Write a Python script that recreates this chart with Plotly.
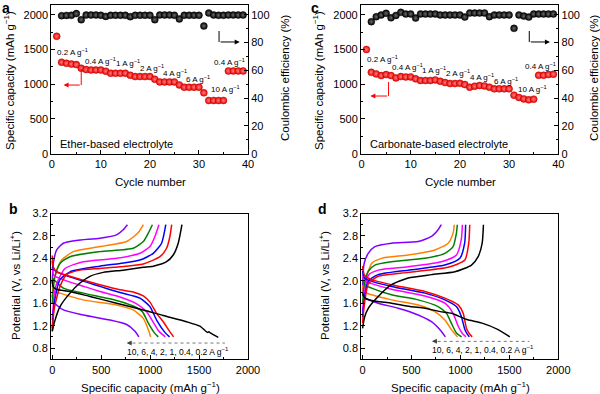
import plotly.graph_objects as go

# ---------------- data: rate capability (panels a, c) ----------------
cycles = list(range(1, 40))
cap_ether = [1690, 1316, 1301, 1290, 1282, 1230, 1210, 1205, 1205, 1205,
             1187, 1158, 1158, 1158, 1158, 1129, 1110, 1110, 1110, 1110,
             1072, 1033, 1033, 1033, 1033, 990, 957, 957, 957, 957,
             876, 766, 766, 766, 766, 1191, 1191, 1191, 1191]
ce_ether = [None, 99.3, 99.5, 99.6, 100.8, 96.4, 99.8, 99.8, 99.8, 99.6,
            98.8, 99.6, 99.6, 99.6, 99.6, 98.6, 99.6, 99.6, 99.6, 99.6,
            96.4, 99.8, 99.8, 99.8, 99.6, 97.0, 99.6, 99.6, 99.6, 99.6,
            91.9, 101.2, 99.8, 99.6, 99.6, 99.8, 99.8, 99.8, 99.8]
cap_carb = [1500, 1172, 1148, 1124, 1139, 1124, 1091, 1110, 1105, 1105,
            1077, 1053, 1053, 1053, 1062, 1043, 1024, 1010, 1010, 1014,
            995, 957, 971, 981, 976, 957, 933, 933, 933, 933,
            842, 809, 789, 775, 785, 1129, 1129, 1139, 1144]
ce_carb = [None, 95.0, 98.6, 99.8, 101.0, 97.8, 99.5, 101.7, 100.5, 100.5,
           97.6, 100.5, 100.5, 100.5, 100.5, 99.8, 99.8, 99.8, 99.8, 99.8,
           98.3, 101.2, 101.2, 101.2, 101.2, 98.6, 99.8, 99.8, 99.8, 99.8,
           90.2, 99.8, 99.0, 98.3, 100.5, 100.5, 100.5, 100.5, 100.5]
rate_labels = ["0.2 A g<sup>−1</sup>", "0.4 A g<sup>−1</sup>", "1 A g<sup>−1</sup>",
               "2 A g<sup>−1</sup>", "4 A g<sup>−1</sup>", "6 A g<sup>−1</sup>",
               "10 A g<sup>−1</sup>", "0.4 A g<sup>−1</sup>"]

# ---------------- data: voltage profiles (panels b, d) ----------------
rates = ["0.2", "0.4", "1", "2", "4", "6", "10"]
rate_colors = ["#000000", "#ff0000", "#0000ff", "#ff00ff", "#008000", "#ff8000", "#8000ff"]

# ether (b): discharge curves  (capacity, voltage)
eth_dis_02 = [(0, 2.0), (8, 1.9), (40, 1.85), (181, 1.81), (385, 1.72), (657, 1.60), (930, 1.48),
              (1134, 1.38), (1372, 1.27), (1509, 1.19), (1585, 1.08), (1600, 1.09), (1615, 1.07), (1696, 0.99)]
eth_dis_04 = [(0, 2.45), (10, 2.25), (45, 2.16), (181, 2.08), (487, 1.93), (692, 1.84), (827, 1.80),
              (930, 1.73), (998, 1.62), (1066, 1.42), (1134, 1.27), (1202, 1.09), (1240, 1.0)]
eth_dis_1 = [(0, 2.35), (15, 2.2), (113, 2.11), (487, 1.90), (692, 1.79), (896, 1.69), (998, 1.54),
             (1066, 1.30), (1151, 1.08), (1198, 1.0)]
eth_dis_2 = [(0, 2.25), (15, 2.1), (113, 2.02), (487, 1.81), (692, 1.71), (862, 1.59), (964, 1.45),
             (1032, 1.26), (1090, 1.1), (1155, 1.0)]
eth_dis_4 = [(0, 2.05), (113, 1.87), (317, 1.78), (657, 1.65), (827, 1.55), (920, 1.45), (980, 1.25),
             (1040, 1.08), (1083, 1.0)]
eth_dis_6 = [(0, 1.92), (15, 1.82), (79, 1.78), (317, 1.66), (657, 1.57), (827, 1.48), (930, 1.33),
             (981, 1.13), (1005, 1.0)]
eth_dis_10 = [(0, 1.75), (15, 1.62), (113, 1.48), (317, 1.39), (589, 1.30), (760, 1.22), (845, 1.10),
              (885, 1.0)]
# ether (b): charge curves
eth_chg_02 = [(0, 1.1), (20, 1.25), (79, 1.54), (181, 1.78), (283, 1.96), (385, 2.08), (521, 2.15),
              (725, 2.19), (930, 2.24), (1032, 2.26), (1168, 2.34), (1236, 2.46), (1287, 2.67), (1325, 3.0)]
eth_chg_04 = [(0, 1.1), (20, 1.5), (79, 1.90), (147, 2.11), (283, 2.19), (487, 2.22), (692, 2.25),
              (930, 2.30), (1100, 2.43), (1168, 2.58), (1202, 2.79), (1220, 3.0)]
eth_chg_1 = [(0, 1.15), (20, 1.6), (79, 2.02), (181, 2.16), (487, 2.26), (692, 2.31), (896, 2.37),
             (1032, 2.49), (1117, 2.67), (1160, 3.0)]
eth_chg_2 = [(0, 1.3), (20, 1.75), (45, 1.95), (130, 2.22), (317, 2.34), (657, 2.40), (896, 2.49),
             (998, 2.61), (1049, 2.79), (1090, 3.0)]
eth_chg_4 = [(0, 1.6), (10, 1.85), (28, 2.08), (79, 2.31), (181, 2.43), (487, 2.52), (827, 2.58),
             (930, 2.70), (981, 2.85), (1023, 3.0)]
eth_chg_6 = [(0, 1.7), (10, 1.95), (45, 2.19), (96, 2.37), (215, 2.52), (487, 2.61), (760, 2.70),
             (879, 2.86), (931, 3.0)]
eth_chg_10 = [(0, 1.95), (10, 2.3), (45, 2.55), (113, 2.67), (249, 2.72), (487, 2.76), (657, 2.82),
              (725, 2.91), (768, 3.0)]

# carbonate (d): discharge curves
carb_dis_02 = [(0, 1.78), (20, 1.70), (92, 1.65), (296, 1.60), (486, 1.54), (637, 1.51), (793, 1.45),
               (908, 1.42), (1065, 1.31), (1214, 1.25), (1385, 1.13), (1505, 1.0)]
carb_dis_04 = [(0, 2.26), (20, 2.1), (92, 2.02), (296, 1.93), (637, 1.81), (841, 1.69), (977, 1.57),
               (1028, 1.42), (1062, 1.15), (1090, 1.06), (1120, 1.0)]
carb_dis_1 = [(0, 2.18), (20, 2.05), (92, 1.99), (296, 1.90), (637, 1.78), (841, 1.66), (959, 1.54),
              (1010, 1.36), (1045, 1.13), (1070, 1.05), (1091, 1.0)]
carb_dis_2 = [(0, 2.1), (20, 2.0), (92, 1.95), (296, 1.85), (637, 1.73), (841, 1.60), (925, 1.42),
              (977, 1.19), (1020, 1.06), (1057, 1.0)]
carb_dis_4 = [(0, 2.02), (20, 1.93), (92, 1.87), (296, 1.75), (568, 1.66), (772, 1.54), (857, 1.42),
              (908, 1.24), (959, 1.07), (1012, 1.0)]
carb_dis_6 = [(0, 1.92), (20, 1.8), (92, 1.75), (296, 1.66), (568, 1.57), (739, 1.45), (841, 1.30),
              (908, 1.13), (970, 1.0)]
carb_dis_10 = [(0, 1.75), (24, 1.69), (160, 1.60), (364, 1.51), (568, 1.39), (704, 1.27), (789, 1.13),
               (846, 1.0)]
# carbonate (d): charge curves
carb_chg_02 = [(0, 1.15), (20, 1.35), (58, 1.51), (160, 1.72), (296, 1.93), (466, 2.05), (704, 2.11),
               (943, 2.16), (1113, 2.28), (1181, 2.43), (1222, 2.67), (1235, 3.0)]
carb_chg_04 = [(0, 1.25), (20, 1.6), (60, 1.95), (160, 2.08), (466, 2.15), (874, 2.24), (1045, 2.37),
               (1085, 2.67), (1095, 3.0)]
carb_chg_1 = [(0, 1.35), (20, 1.7), (60, 2.0), (160, 2.11), (466, 2.19), (841, 2.28), (994, 2.40),
              (1043, 2.67), (1053, 3.0)]
carb_chg_2 = [(0, 1.45), (20, 1.8), (60, 2.1), (160, 2.19), (466, 2.25), (806, 2.34), (959, 2.46),
              (1008, 2.73), (1020, 3.0)]
carb_chg_4 = [(0, 1.6), (20, 1.95), (58, 2.17), (126, 2.28), (296, 2.34), (637, 2.40), (841, 2.49),
              (925, 2.61), (959, 2.85), (968, 3.0)]
carb_chg_6 = [(0, 1.75), (20, 2.0), (41, 2.08), (92, 2.31), (194, 2.40), (466, 2.46), (739, 2.55),
              (874, 2.67), (925, 2.85), (937, 3.0)]
carb_chg_10 = [(0, 1.8), (15, 2.3), (58, 2.49), (126, 2.61), (296, 2.67), (568, 2.70), (704, 2.79),
               (772, 2.91), (805, 3.0)]

eth_dis = [eth_dis_02, eth_dis_04, eth_dis_1, eth_dis_2, eth_dis_4, eth_dis_6, eth_dis_10]
eth_chg = [eth_chg_02, eth_chg_04, eth_chg_1, eth_chg_2, eth_chg_4, eth_chg_6, eth_chg_10]
carb_dis = [carb_dis_02, carb_dis_04, carb_dis_1, carb_dis_2, carb_dis_4, carb_dis_6, carb_dis_10]
carb_chg = [carb_chg_02, carb_chg_04, carb_chg_1, carb_chg_2, carb_chg_4, carb_chg_6, carb_chg_10]

FONT = "Arial, Liberation Sans, Helvetica, sans-serif"
fig = go.Figure()

# ---------------- panels a & c: scatter ----------------
def add_rate(cap, ce, xa, ya, ya2):
    fig.add_trace(go.Scatter(x=cycles, y=ce, mode="markers", xaxis=xa, yaxis=ya2,
                             marker=dict(size=7, color="#000000",
                                         gradient=dict(type="radial", color="#6a6a6a"),
                                         line=dict(width=0.4, color="#000000")),
                             showlegend=False, hoverinfo="skip"))
    fig.add_trace(go.Scatter(x=cycles, y=cap, mode="markers", xaxis=xa, yaxis=ya,
                             marker=dict(size=7, color="#ee0000",
                                         gradient=dict(type="radial", color="#ff8080"),
                                         line=dict(width=0.4, color="#aa0000")),
                             showlegend=False, hoverinfo="skip"))

add_rate(cap_ether, ce_ether, "x", "y", "y2")
add_rate(cap_carb, ce_carb, "x2", "y3", "y4")

# ---------------- panels b & d: profiles ----------------
def add_profiles(dis, chg, xa, ya):
    for i in range(len(rates) - 1, -1, -1):
        for curve in (dis[i], chg[i]):
            fig.add_trace(go.Scatter(x=[p[0] for p in curve], y=[p[1] for p in curve],
                                     mode="lines", xaxis=xa, yaxis=ya,
                                     line=dict(color=rate_colors[i], width=1.5, shape="spline", smoothing=0.6),
                                     showlegend=False, hoverinfo="skip"))

add_profiles(eth_dis, eth_chg, "x3", "y5")
add_profiles(carb_dis, carb_chg, "x4", "y6")

# ---------------- axes ----------------
tickfont = dict(family=FONT, size=11, color="black")
common = dict(showline=True, linecolor="black", linewidth=1.1, ticks="inside", ticklen=4,
              tickwidth=1, tickcolor="black", tickfont=tickfont, showgrid=False, zeroline=False,
              automargin=False)

ya_dom = [1 - 153.7 / 394, 1 - 5 / 394]
yb_dom = [1 - 359.3 / 394, 1 - 213.5 / 394]
xa_dom = [51.3 / 600, 248 / 600]
xc_dom = [361 / 600, 558.3 / 600]
xb_dom = [51 / 600, 248 / 600]
xd_dom = [361.3 / 600, 558.3 / 600]

def cyc_x(dom, anchor):
    return dict(common, domain=dom, anchor=anchor, range=[-0.1, 40], dtick=10, tick0=0, mirror=True,
                minor=dict(ticks="inside", ticklen=2, dtick=5, tickcolor="black"))

def cap_y(anchor):
    return dict(common, domain=ya_dom, anchor=anchor, range=[0, 2140], dtick=500, tick0=0,
                minor=dict(ticks="inside", ticklen=2, dtick=250, tickcolor="black"))

def ce_y(over, anchor):
    return dict(common, overlaying=over, anchor=anchor, side="right", range=[0, 107], dtick=20, tick0=0,
                minor=dict(ticks="inside", ticklen=2, dtick=10, tickcolor="black"))

def spc_x(dom, anchor):
    return dict(common, domain=dom, anchor=anchor, range=[-13, 2000], dtick=500, tick0=0, mirror=True,
                minor=dict(ticks="inside", ticklen=2, dtick=250, tickcolor="black"))

def pot_y(anchor):
    return dict(common, domain=yb_dom, anchor=anchor, range=[0.6, 3.2], dtick=0.4, tick0=0.8, mirror=True,
                tickformat=".1f", minor=dict(ticks="inside", ticklen=2, dtick=0.2, tick0=0.8, tickcolor="black"))

fig.update_layout(
    xaxis=cyc_x(xa_dom, "y"), yaxis=cap_y("x"), yaxis2=ce_y("y", "x"),
    xaxis2=cyc_x(xc_dom, "y3"), yaxis3=cap_y("x2"), yaxis4=ce_y("y3", "x2"),
    xaxis3=spc_x(xb_dom, "y5"), yaxis5=pot_y("x3"),
    xaxis4=spc_x(xd_dom, "y6"), yaxis6=pot_y("x4"),
)

# ---------------- text annotations ----------------
ann = []
def txt(x, y, text, size=11, xref="paper", yref="paper", angle=0, xanchor="center", yanchor="middle", bold=False):
    ann.append(dict(x=x, y=y, xref=xref, yref=yref, text=("<b>%s</b>" % text) if bold else text,
                    showarrow=False, textangle=angle, xanchor=xanchor, yanchor=yanchor,
                    font=dict(family=FONT, size=size, color="black")))

def P(px, py):
    return px / 600, 1 - py / 394

# panel letters
for lab, (px, py) in zip(["a", "c", "b", "d"], [(6, 8), (315, 8), (13, 209), (322, 209)]):
    x, y = P(px, py)
    txt(x, y, lab, size=14, bold=True)

# axis titles
cap_title = "Specific capacity (mAh g<sup>−1</sup>)"
for px, py, t, a in [(9, 81, cap_title, -90), (285, 78, "Coulombic efficiency (%)", -90),
                     (150, 182, "Cycle number", 0),
                     (318, 81, cap_title, -90), (594, 78, "Coulombic efficiency (%)", -90),
                     (460, 182, "Cycle number", 0),
                     (15, 286, "Potential (V, vs Li/Li<sup>+</sup>)", -90), (150, 387, cap_title, 0),
                     (324, 286, "Potential (V, vs Li/Li<sup>+</sup>)", -90), (460, 387, cap_title, 0)]:
    x, y = P(px, py)
    txt(x, y, t, size=11.5, angle=a)

# electrolyte labels
txt(1.2, 140, "Ether-based electrolyte", size=11, xref="x", yref="y", xanchor="left")
txt(1.4, 140, "Carbonate-based electrolyte", size=11, xref="x2", yref="y3", xanchor="left")

# rate labels (a)
for lab, (cx, cy) in zip(rate_labels, [(0.6, 1470), (6.4, 1340), (12.6, 1305), (17.6, 1235),
                                        (22.2, 1165), (26.9, 1080), (32.0, 935), (32.6, 1325)]):
    txt(cx, cy, lab, size=8, xref="x", yref="y", xanchor="left")
# rate labels (c)
for lab, (cx, cy) in zip(rate_labels, [(0.8, 1365), (5.8, 1250), (11.9, 1205), (16.7, 1160),
                                        (21.6, 1105), (26.6, 1045), (31.4, 930), (32.9, 1265)]):
    txt(cx, cy, lab, size=8, xref="x2", yref="y3", xanchor="left")

# profile legends
prof_label = "10, 6, 4, 2, 1, 0.4, 0.2 A g<sup>−1</sup>"
txt(1280, 0.735, prof_label, size=8.5, xref="x3", yref="y5")
txt(1232, 0.77, prof_label, size=8.5, xref="x4", yref="y6")

# arrows (horizontal parts with heads)
def arrow(xh, yh, xt, yt, xr, yr, color, width=1):
    ann.append(dict(x=xh, y=yh, ax=xt, ay=yt, xref=xr, yref=yr, axref=xr, ayref=yr, text="",
                    showarrow=True, arrowhead=2, arrowsize=1, arrowwidth=width, arrowcolor=color))

arrow(2.4, 988, 6.0, 988, "x", "y", "#ff0000")
arrow(38.3, 80.4, 34.1, 80.4, "x", "y2", "#000000")
arrow(1.8, 830, 5.5, 830, "x2", "y3", "#ff0000")
arrow(38.3, 80.4, 34.1, 80.4, "x2", "y4", "#000000")
arrow(760, 0.89, 830, 0.89, "x3", "y5", "#444444")
arrow(708, 0.92, 778, 0.92, "x4", "y6", "#444444")

shapes = [
    dict(type="line", xref="x", yref="y", x0=6.0, x1=6.0, y0=1219, y1=988, line=dict(color="#ff0000", width=1)),
    dict(type="line", xref="x", yref="y2", x0=34.1, x1=34.1, y0=88.3, y1=80.4, line=dict(color="#000000", width=1)),
    dict(type="line", xref="x2", yref="y3", x0=5.5, x1=5.5, y0=1031, y1=830, line=dict(color="#ff0000", width=1)),
    dict(type="line", xref="x2", yref="y4", x0=34.1, x1=34.1, y0=88.3, y1=80.4, line=dict(color="#000000", width=1)),
    dict(type="line", xref="x3", yref="y5", x0=820, x1=1764, y0=0.89, y1=0.89,
         line=dict(color="#777777", width=1, dash="dot")),
    dict(type="line", xref="x4", yref="y6", x0=768, x1=1704, y0=0.92, y1=0.92,
         line=dict(color="#777777", width=1, dash="dot")),
]

fig.update_layout(width=600, height=394, margin=dict(l=0, r=0, t=0, b=0, pad=0), autosize=False,
                  paper_bgcolor="white", plot_bgcolor="white",
                  annotations=ann, shapes=shapes, showlegend=False,
                  font=dict(family=FONT, size=11, color="black"))

fig.write_html("out.html", config={"displayModeBar": False},
               post_script="document.body.style.margin='0';document.body.style.padding='0';")
